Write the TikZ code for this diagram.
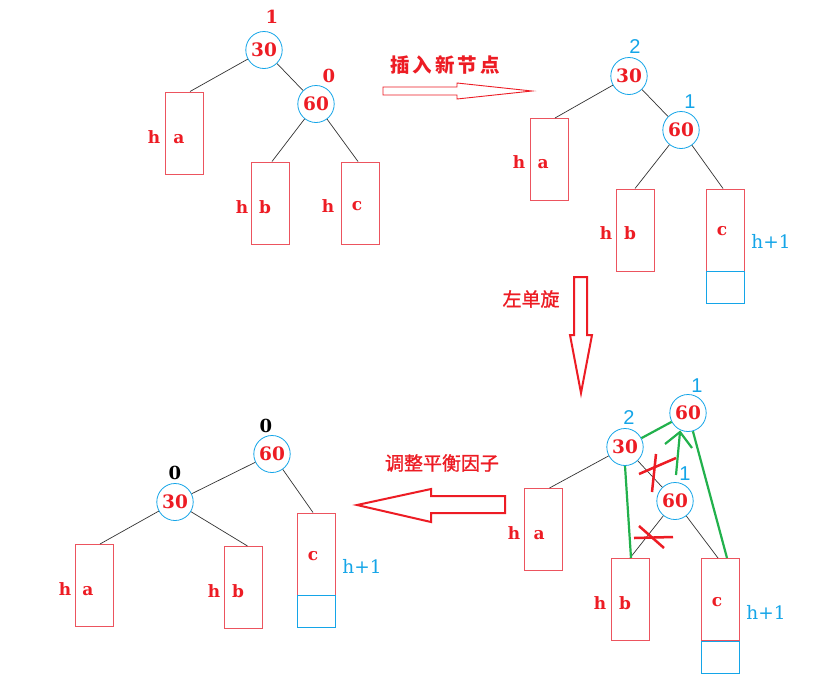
\documentclass[tikz,border=0pt]{standalone}
\usepackage{fontspec}
\setmainfont{DejaVu Serif}
\newfontfamily\cjk{Noto Sans CJK SC}
\newfontfamily\cjkm[FakeBold=1.2]{Noto Sans CJK SC}
\newfontfamily\sansf{Liberation Sans}
\usetikzlibrary{shapes.geometric,calc}
\definecolor{pred}{RGB}{237,28,36}
\definecolor{pbox}{RGB}{236,84,94}
\definecolor{pblue}{RGB}{20,165,232}
\definecolor{pgreen}{RGB}{34,177,76}
\tikzset{
  val/.style={ellipse, draw=pblue, line width=0.8pt, minimum width=34pt, minimum height=37pt,
    inner sep=0pt, text=pred, font=\fontsize{18.5}{18.5}\selectfont\bfseries},
  sub/.style={rectangle, draw=pbox, line width=1pt, minimum width=38pt, minimum height=82pt, inner sep=0pt},
  ext/.style={rectangle, draw=pblue, line width=1pt, minimum width=38pt, minimum height=32pt, inner sep=0pt},
  lbl/.style={anchor=base, inner sep=0pt, text=pred, font=\fontsize{17}{17}\selectfont\bfseries},
  bfr/.style={anchor=base, inner sep=0pt, text=pred, font=\fontsize{18}{18}\selectfont\bfseries},
  bfb/.style={anchor=base, inner sep=0pt, text=pblue, font=\sansf\fontsize{20}{20}\selectfont},
  bfk/.style={anchor=base, inner sep=0pt, text=black, font=\fontsize{18}{18}\selectfont\bfseries},
  hpl/.style={anchor=base, inner sep=0pt, text=pblue, font=\fontsize{18.5}{18.5}\selectfont},
  cn/.style={inner sep=0pt, text=pred, font=\cjkm\fontsize{19}{19}\selectfont},
  tree/.style={draw=black!80, line width=0.7pt},
  bigarrow/.style={draw=pred, line width=2pt, line join=miter},
  thinarrow/.style={draw=pred, line width=0.9pt},
  gline/.style={draw=pgreen, line width=2.2pt},
  xmark/.style={draw=pred, line width=2.5pt}
}
\begin{document}
\begin{tikzpicture}[x=1pt,y=-1pt]
\useasboundingbox (0,0) rectangle (834,694);
\fill[white] (0,0) rectangle (834,694);

% ---------- top-left tree ----------
\node[val] (tl30) at (264,50) {30};
\node[val] (tl60) at (316,104) {60};
\node[sub] (tla) at (184,133) {};
\node[sub] (tlb) at (270,203) {};
\node[sub] (tlc) at (360,203) {};
\node[bfr] (tlbf30) at (272,23) {1};
\node[bfr] (tlbf60) at (329,82) {0};
\node[lbl] (tlha) at (154,143) {h};
\node[lbl] (tlta) at (179,143) {a};
\node[lbl] (tlhb) at (242,213) {h};
\node[lbl] (tltb) at (265,213) {b};
\node[lbl] (tlhc) at (328,212) {h};
\node[lbl] (tltc) at (357,210) {c};
\draw[tree] (tl30) -- ([xshift=6pt]tla.north);
\draw[tree] (tl30) -- (tl60);
\draw[tree] (tl60) -- ([xshift=2pt]tlb.north);
\draw[tree] (tl60) -- ([xshift=-2pt]tlc.north);

% ---------- arrow 1 ----------
\node[cn, font=\cjk\bfseries\fontsize{19.5}{19.5}\selectfont] (t1) at (445,65) {插\kern3pt 入\kern3pt 新\kern3pt 节\kern3pt 点};
\draw[thinarrow] (383,87) -- (457,87) -- (457,83) -- (532,91) -- (457,99) -- (457,95) -- (383,95) -- cycle;

% ---------- top-right tree ----------
\node[val] (tr30) at (629,76) {30};
\node[val] (tr60) at (681,130) {60};
\node[sub] (tra) at (549,159.5) {};
\node[sub] (trb) at (635,230) {};
\node[sub] (trc) at (725,230) {};
\node[ext] (trx) at (725,287) {};
\node[bfb] (trbf30) at (635,53) {2};
\node[bfb] (trbf60) at (690,108) {1};
\node[lbl] (trha) at (519,168) {h};
\node[lbl] (trta) at (543,168) {a};
\node[lbl] (trhb) at (606,239) {h};
\node[lbl] (trtb) at (630,239) {b};
\node[lbl] (trtc) at (722,235) {c};
\node[hpl] (trh1) at (771,248) {h+1};
\draw[tree] (tr30) -- ([xshift=6pt]tra.north);
\draw[tree] (tr30) -- (tr60);
\draw[tree] (tr60) -- (trb.north);
\draw[tree] (tr60) -- ([xshift=-2pt]trc.north);

% ---------- arrow 2 ----------
\node[cn] (t2) at (531,299) {左单旋};
\draw[bigarrow] (574,277) -- (587,277) -- (587,335) -- (592,335) -- (581,393) -- (570,335) -- (574,335) -- cycle;

% ---------- bottom-right tree ----------
\node[val] (brt60) at (688,413) {60};
\node[val] (br30) at (625,447) {30};
\node[val] (brl60) at (675,501) {60};
\node[sub] (bra) at (543.5,529.5) {};
\node[sub] (brb) at (630,599.5) {};
\node[sub] (brc) at (720,599.5) {};
\node[ext] (brx) at (720,657) {};
\node[bfb] (brbft) at (697,392) {1};
\node[bfb] (brbf30) at (629,424) {2};
\node[bfb] (brbfl) at (685,480) {1};
\node[lbl] (brha) at (514,539) {h};
\node[lbl] (brta) at (539,539) {a};
\node[lbl] (brhb) at (600,609) {h};
\node[lbl] (brtb) at (625,609) {b};
\node[lbl] (brtc) at (717,606) {c};
\node[hpl] (brh1) at (766,619) {h+1};
\draw[tree] (br30) -- ([xshift=6pt]bra.north);
\draw[tree] (br30) -- (brl60);
\draw[tree] (brl60) -- (brb.north);
\draw[tree] (brl60) -- ([xshift=-2pt]brc.north);
% green re-linking
\draw[gline] (br30) -- (brt60);
\draw[gline] (br30.south) -- ([xshift=1pt]brb.north);
\draw[gline] (brt60) -- ([xshift=7pt]brc.north);
\coordinate (gs) at (676,475);
\coordinate (gt) at (680,432);
\coordinate (gl) at (665,444);
\coordinate (gr) at (692,448);
\draw[gline] (gs) -- (gt);
\draw[gline] (gl) -- (gt) -- (gr);
% red crosses
\coordinate (x1a) at (639,474); \coordinate (x1b) at (676,458);
\coordinate (x1c) at (656,454); \coordinate (x1d) at (652,492);
\draw[xmark] (x1a) -- (x1b);
\draw[xmark] (x1c) -- (x1d);
\coordinate (x2a) at (639,526); \coordinate (x2b) at (664,548);
\coordinate (x2c) at (634,538); \coordinate (x2d) at (673,537);
\draw[xmark] (x2a) -- (x2b);
\draw[xmark] (x2c) -- (x2d);

% ---------- arrow 3 ----------
\node[cn] (t3) at (442,463) {调整平衡因子};
\draw[bigarrow] (505,496) -- (431,496) -- (431,489) -- (357,505) -- (431,522) -- (431,513) -- (505,513) -- cycle;

% ---------- bottom-left tree ----------
\node[val] (bl60) at (272,454) {60};
\node[val] (bl30) at (175,502) {30};
\node[sub] (bla) at (94,585.5) {};
\node[sub] (blb) at (243.5,587.5) {};
\node[sub] (blc) at (316,554) {};
\node[ext] (blx) at (316,611) {};
\node[bfk] (blbf60) at (266,432) {0};
\node[bfk] (blbf30) at (175,479) {0};
\node[lbl] (blha) at (65,595) {h};
\node[lbl] (blta) at (88,595) {a};
\node[lbl] (blhb) at (214,597) {h};
\node[lbl] (bltb) at (238,597) {b};
\node[lbl] (bltc) at (313,560) {c};
\node[hpl] (blh1) at (362,573) {h+1};
\draw[tree] (bl60) -- (bl30);
\draw[tree] (bl30) -- ([xshift=6pt]bla.north);
\draw[tree] (bl30) -- ([xshift=4pt]blb.north);
\draw[tree] (bl60) -- ([xshift=-3pt]blc.north);
\end{tikzpicture}
\end{document}
